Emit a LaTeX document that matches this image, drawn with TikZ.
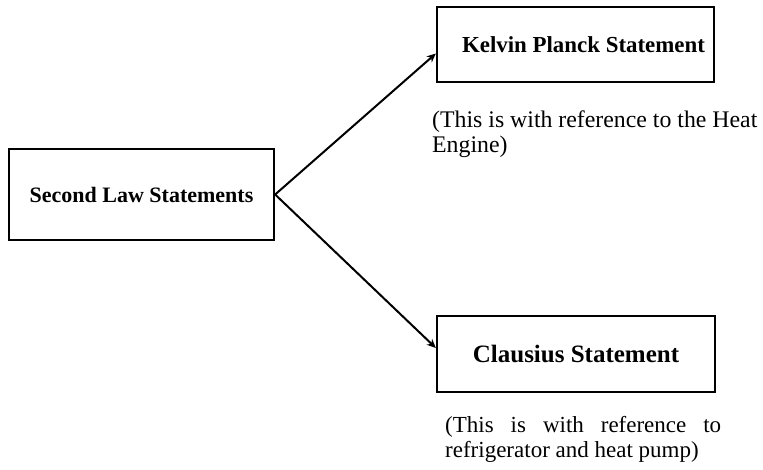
\documentclass[tikz,border=0pt]{standalone}
\usepackage{fontspec}
\setmainfont{Liberation Serif}
\usetikzlibrary{arrows.meta}
\begin{document}
\begin{tikzpicture}[
  box/.style={draw=black, line width=2.3pt, fill=white, inner sep=0pt, font=\bfseries\fontsize{22pt}{26pt}\selectfont},
  conn/.style={draw=black, line width=2pt, -{Stealth[length=9pt,width=8pt]}},
  note/.style={inner sep=0pt, font=\fontsize{23.8pt}{25pt}\selectfont}
]
\useasboundingbox (0,0) rectangle (763pt,-469pt);
\node[box, minimum width=265pt, minimum height=91pt] (slaw) at (141.5pt,-194.5pt) {Second Law Statements};
\node[box, minimum width=277pt, minimum height=75pt, font=\bfseries\fontsize{22.9pt}{26pt}\selectfont] (kp) at (575.5pt,-44.5pt) {\hspace*{16pt}Kelvin Planck Statement};
\node[box, minimum width=278pt, minimum height=76pt, font=\bfseries\fontsize{25pt}{28pt}\selectfont] (cl) at (576pt,-354pt) {Clausius Statement};
\node[note, anchor=north west, align=left] (n1) at (432pt,-111pt) {(This is with reference to the Heat\\Engine)};
\node[note, anchor=north west, align=left, font=\fontsize{23pt}{25pt}\selectfont] (n2) at (445pt,-416pt) {\makebox[276pt][s]{(This is with reference to}\\refrigerator and heat pump)};
\draw[conn] (slaw.east) -- ([yshift=-9pt]kp.west);
\draw[conn] (slaw.east) -- ([yshift=6pt]cl.west);
\end{tikzpicture}
\end{document}
